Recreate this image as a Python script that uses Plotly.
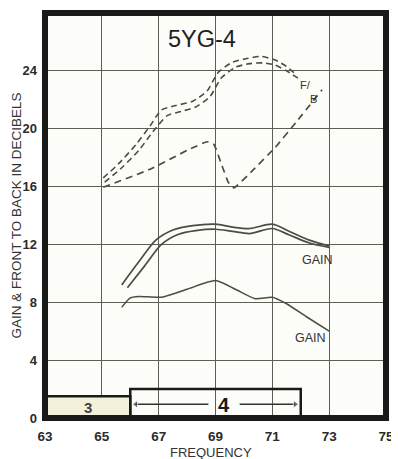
import plotly.graph_objects as go

# Frequency (MHz) vs dB
fb_upper_x = [65.05, 65.6, 66.2, 66.7, 67.1, 67.6, 68.2, 68.7, 69.1, 69.6, 70.1, 70.6, 71.1, 71.5, 71.8]
fb_upper_y = [16.6, 17.6, 18.9, 20.2, 21.3, 21.6, 21.9, 22.6, 23.9, 24.6, 24.85, 25.0, 24.75, 24.3, 23.8]
fb_lower_x = [65.1, 65.7, 66.3, 66.8, 67.3, 67.8, 68.3, 68.8, 69.2, 69.7, 70.2, 70.7, 71.1, 71.5, 71.9]
fb_lower_y = [16.3, 17.3, 18.5, 19.8, 20.9, 21.2, 21.5, 22.2, 23.5, 24.25, 24.5, 24.55, 24.4, 24.0, 23.5]
fb_single_x = [65.05, 66.7, 68.0, 68.7, 68.95, 69.2, 69.45, 69.65, 70.3, 71.1, 71.9, 72.75]
fb_single_y = [15.95, 17.2, 18.5, 19.1, 18.9, 17.6, 16.3, 15.9, 17.1, 18.7, 20.6, 22.7]

gain_outer_x = [65.7, 66.3, 66.9, 67.5, 68.2, 69.0, 69.6, 70.2, 71.0, 71.6, 72.3, 73.0]
gain_outer_y = [9.2, 10.8, 12.3, 13.0, 13.3, 13.4, 13.2, 13.1, 13.4, 12.9, 12.3, 11.9]
gain_inner_x = [65.9, 66.5, 67.1, 67.7, 68.3, 69.0, 69.6, 70.2, 71.0, 71.6, 72.3, 73.0]
gain_inner_y = [9.0, 10.5, 12.0, 12.7, 12.95, 13.05, 12.9, 12.75, 13.1, 12.65, 12.1, 11.8]
gain_single_x = [65.7, 66.0, 66.3, 67.1, 68.0, 69.0, 69.7, 70.4, 71.0, 71.5, 72.2, 73.0]
gain_single_y = [7.65, 8.3, 8.4, 8.35, 8.9, 9.5, 8.9, 8.25, 8.35, 7.9, 7.0, 6.0]

# TV channel bands along the bottom
channel_labels = ["3", "4"]
channel_start = [63, 66]
channel_end = [66, 72]
channel_top = [1.5, 2.0]

x_ticks = [63, 65, 67, 69, 71, 73, 75]
y_ticks = [0, 4, 8, 12, 16, 20, 24]

ink = "#4a4d44"
grid = "#5c5f52"
font = "Liberation Sans"

fig = go.Figure()

dash = "6px,4px"
fig.add_trace(go.Scatter(x=fb_upper_x, y=fb_upper_y, mode="lines", line=dict(color=ink, width=1.6, dash=dash, shape="spline", smoothing=0.6)))
fig.add_trace(go.Scatter(x=fb_lower_x, y=fb_lower_y, mode="lines", line=dict(color=ink, width=1.6, dash=dash, shape="spline", smoothing=0.6)))
fig.add_trace(go.Scatter(x=fb_single_x, y=fb_single_y, mode="lines", line=dict(color=ink, width=1.7, dash="7px,5px", shape="spline", smoothing=0.3)))
fig.add_trace(go.Scatter(x=gain_outer_x, y=gain_outer_y, mode="lines", line=dict(color=ink, width=1.7, shape="spline", smoothing=0.8)))
fig.add_trace(go.Scatter(x=gain_inner_x, y=gain_inner_y, mode="lines", line=dict(color=ink, width=1.7, shape="spline", smoothing=0.8)))
fig.add_trace(go.Scatter(x=gain_single_x, y=gain_single_y, mode="lines", line=dict(color=ink, width=1.5, shape="spline", smoothing=0.6)))

# arrow across channel 4, broken where the number sits
ch4_mid = 69.3
arrow_y = 0.95
for xs, sym in [([channel_start[1] + 0.2, ch4_mid - 0.55], ["triangle-left", "circle"]),
                ([ch4_mid + 0.55, channel_end[1] - 0.2], ["circle", "triangle-right"])]:
    fig.add_trace(go.Scatter(x=xs, y=[arrow_y, arrow_y], mode="lines+markers",
                             line=dict(color="#333", width=1.3),
                             marker=dict(symbol=sym, size=[7, 0] if sym[0] != "circle" else [0, 7], color="#333"),
                             cliponaxis=False))

shapes = []
fills = ["#f3f1dc", "rgba(255,255,255,0)"]
for i in range(len(channel_labels)):
    shapes.append(dict(type="rect", xref="x", yref="y", x0=channel_start[i], x1=channel_end[i],
                       y0=0, y1=channel_top[i], fillcolor=fills[i],
                       line=dict(color="#1a1a1a", width=2.5), layer="above"))
# thick frame round the plot
shapes.append(dict(type="rect", xref="paper", yref="paper", x0=0, x1=1, y0=0, y1=1,
                   line=dict(color="#1a1a18", width=6), layer="above"))

annotations = []
annotations.append(dict(x=68.53, y=26.2, xref="x", yref="y", text="5YG-4", showarrow=False,
                        font=dict(family=font, size=23.5, color="#1f1f1f")))
annotations.append(dict(x=72.15, y=23.0, xref="x", yref="y", text="F/", showarrow=False,
                        font=dict(family=font, size=11, color="#333")))
annotations.append(dict(x=72.45, y=22.05, xref="x", yref="y", text="B", showarrow=False,
                        font=dict(family=font, size=11, color="#333")))
annotations.append(dict(x=72.6, y=10.9, xref="x", yref="y", text="GAIN", showarrow=False,
                        font=dict(family=font, size=12.5, color="#333")))
annotations.append(dict(x=72.34, y=5.5, xref="x", yref="y", text="GAIN", showarrow=False,
                        font=dict(family=font, size=12.5, color="#333")))
annotations.append(dict(x=(channel_start[0] + channel_end[0]) / 2, y=channel_top[0] / 2, xref="x", yref="y",
                        text="<b>" + channel_labels[0] + "</b>", showarrow=False,
                        font=dict(family=font, size=15, color="#444")))
annotations.append(dict(x=ch4_mid, y=0.9, xref="x", yref="y", text="<b>" + channel_labels[1] + "</b>", showarrow=False,
                        font=dict(family=font, size=20, color="#1a1a1a")))
annotations.append(dict(x=-0.085, y=0.5, xref="paper", yref="paper", xanchor="center", yanchor="middle",
                        text="GAIN & FRONT TO BACK IN DECIBELS", textangle=-90, showarrow=False,
                        font=dict(family=font, size=13.5, color="#333")))
annotations.append(dict(x=0.487, y=-0.086, xref="paper", yref="paper", xanchor="center", yanchor="middle",
                        text="FREQUENCY", showarrow=False,
                        font=dict(family=font, size=13, color="#333")))

# page body keeps its default 8px margin, so the figure is 8px smaller each way
fig.update_layout(
    width=391, height=451,
    margin=dict(l=37, r=9, t=5, b=41),
    paper_bgcolor="white", plot_bgcolor="#fcfcf8",
    showlegend=False,
    shapes=shapes, annotations=annotations,
    xaxis=dict(range=[63, 75], tickvals=x_ticks, ticktext=[str(v) for v in x_ticks],
               showgrid=True, gridcolor=grid, gridwidth=1.2, zeroline=False, ticks="",
               ticklabelstandoff=8,
               tickfont=dict(family=font, size=13.5, color="#2b2b2b", weight="bold")),
    yaxis=dict(range=[0, 28], tickvals=y_ticks, ticktext=[str(v) for v in y_ticks],
               showgrid=True, gridcolor=grid, gridwidth=1.2, zeroline=False, ticks="",
               ticklabelstandoff=7,
               tickfont=dict(family=font, size=13, color="#2b2b2b", weight="bold")),
)

fig.write_html("out.html")
